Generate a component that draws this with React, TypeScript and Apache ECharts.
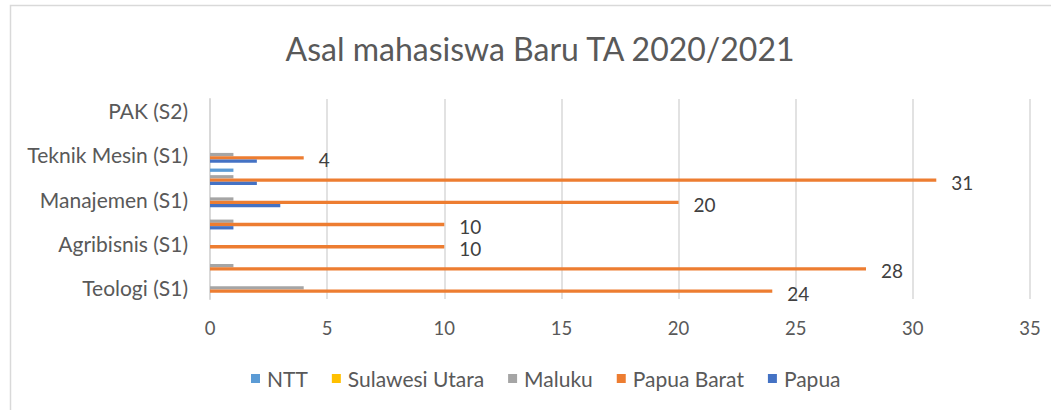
import React, { useEffect, useRef } from "react";
import * as echarts from "echarts";

const categories = [
  "Teologi (S1)",
  "PAK (S1)",
  "Agribisnis (S1)",
  "Kehutanan (S1)",
  "Manajemen (S1)",
  "Akuntansi (S1)",
  "Teknik Mesin (S1)",
  "Teknik Sipil (S1)",
  "PAK (S2)",
];
const seriesNames = ["NTT", "Sulawesi Utara", "Maluku", "Papua Barat", "Papua"];
const ntt = [0, 0, 0, 0, 0, 1, 0, 0, 0];
const sulawesiUtara = [0, 0, 0, 0, 0, 0, 0, 0, 0];
const maluku = [4, 1, 0, 1, 1, 1, 1, 0, 0];
const papuaBarat = [24, 28, 10, 10, 20, 31, 4, 0, 0];
const papua = [0, 0, 0, 1, 3, 2, 2, 0, 0];
const xTicks = { min: 0, max: 35, interval: 5 };
const colors = ["#5B9BD5", "#FFC000", "#A5A5A5", "#ED7D31", "#4472C4"];

const FONT = "Lato";

export default function App() {
  const ref = useRef<HTMLDivElement>(null);
  useEffect(() => {
    const chart = echarts.init(ref.current!, null, { renderer: "svg" });
    const values = [ntt, sulawesiUtara, maluku, papuaBarat, papua];
    chart.setOption({
      animation: false,
      color: colors,
      textStyle: { fontFamily: FONT },
      title: {
        text: "Asal mahasiswa Baru TA 2020/2021",
        left: 535,
        top: 27,
        textAlign: "center",
        textStyle: { fontFamily: FONT, fontSize: 32, fontWeight: "normal", color: "#595959" },
      },
      graphic: [
        {
          type: "rect",
          shape: { x: 10.5, y: 5.5, width: 1100, height: 500 },
          style: { fill: "none", stroke: "#d9d9d9", lineWidth: 1.5 },
          silent: true,
        },
      ],
      legend: {
        left: 246,
        top: 363,
        itemWidth: 9,
        itemHeight: 9,
        itemGap: 24,
        icon: "rect",
        textStyle: { fontFamily: FONT, fontSize: 21, color: "#595959", padding: [0, 0, 0, 2] },
        data: seriesNames,
      },
      grid: { left: 210, right: 21, top: 99, bottom: 111, containLabel: false },
      xAxis: {
        type: "value",
        min: xTicks.min,
        max: xTicks.max,
        interval: xTicks.interval,
        axisLine: { show: false },
        axisTick: { show: false },
        splitLine: { lineStyle: { color: "#d9d9d9", width: 1.5 } },
        axisLabel: { fontFamily: FONT, fontSize: 18.5, color: "#595959", margin: 19 },
      },
      yAxis: {
        type: "category",
        data: categories,
        axisLine: { lineStyle: { color: "#d9d9d9", width: 2 } },
        axisTick: { show: false },
        axisLabel: { interval: 1, fontFamily: FONT, fontSize: 21, color: "#595959", margin: 22 },
      },
      series: seriesNames.map((name, i) => ({
        name,
        type: "bar",
        data: values[i],
        barGap: "0%",
        barCategoryGap: "26%",
        label:
          name === "Papua Barat"
            ? {
                show: true,
                position: "right",
                distance: 15,
                fontFamily: FONT,
                fontSize: 19,
                color: "#404040",
                offset: [0, 2],
                formatter: (p: any) => (p.value ? String(p.value) : ""),
              }
            : { show: false },
      })),
    });
    return () => chart.dispose();
  }, []);
  return (
    <div
      ref={ref}
      style={{ position: "fixed", left: 0, top: 0, width: 1051, height: 410, background: "#fff" }}
    />
  );
}
